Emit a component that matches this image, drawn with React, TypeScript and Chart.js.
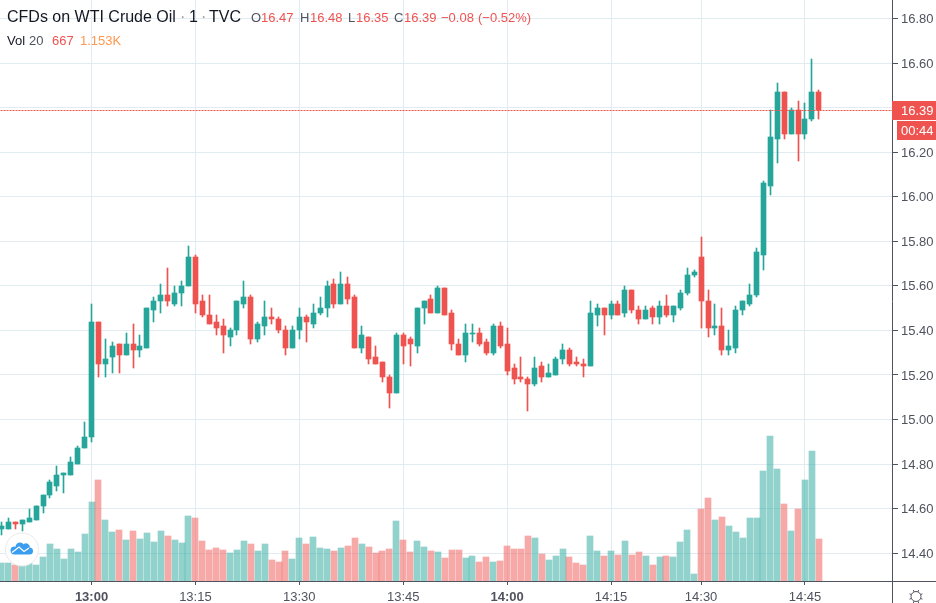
import React, { useEffect, useRef } from 'react';
import { Chart, registerables } from 'chart.js';

Chart.register(...registerables);

// tick labels, bar index -> time (the session has a gap, so it is not evenly timed)
const timeTickIndex = [13, 28, 43, 58, 73, 88, 101, 116];
const timeTickLabels = ['13:00', '13:15', '13:30', '13:45', '14:00', '14:15', '14:30', '14:45'];
const boldTimeLabels = ['13:00', '14:00'];
const priceTicks = [14.4, 14.6, 14.8, 15.0, 15.2, 15.4, 15.6, 15.8, 16.0, 16.2, 16.4, 16.6, 16.8];

const lastPrice = 16.39;

const opens = [
  14.51, 14.51, 14.54, 14.53, 14.54, 14.55, 14.61, 14.66, 14.7, 14.75, 14.75, 14.8, 14.87, 14.92, 15.44, 15.25,
  15.28, 15.34, 15.29, 15.34, 15.31, 15.32, 15.49, 15.53, 15.56, 15.52, 15.57, 15.6, 15.73, 15.53, 15.47, 15.44,
  15.42, 15.37, 15.4, 15.52, 15.55, 15.36, 15.42, 15.46, 15.45, 15.4, 15.32, 15.4, 15.46, 15.43, 15.48, 15.5,
  15.61, 15.52, 15.61, 15.55, 15.32, 15.37, 15.28, 15.26, 15.19, 15.12, 15.38, 15.36, 15.33, 15.5, 15.54, 15.48,
  15.59, 15.48, 15.34, 15.29, 15.39, 15.39, 15.35, 15.3, 15.42, 15.34, 15.23, 15.19, 15.18, 15.16, 15.24, 15.19,
  15.2, 15.27, 15.31, 15.26, 15.25, 15.24, 15.47, 15.5, 15.47, 15.52, 15.48, 15.58, 15.49, 15.45, 15.5, 15.46,
  15.51, 15.47, 15.5, 15.57, 15.65, 15.73, 15.53, 15.41, 15.42, 15.31, 15.32, 15.49, 15.52, 15.56, 15.74, 16.05,
  16.26, 16.47, 16.28, 16.39, 16.28, 16.35, 16.47,
];
const highs = [
  14.54, 14.56, 14.54, 14.55, 14.6, 14.61, 14.66, 14.73, 14.79, 14.76, 14.83, 14.88, 14.99, 15.52, 15.44, 15.36,
  15.35, 15.34, 15.39, 15.43, 15.38, 15.5, 15.55, 15.61, 15.68, 15.6, 15.62, 15.78, 15.74, 15.56, 15.56, 15.47,
  15.45, 15.41, 15.53, 15.62, 15.56, 15.44, 15.53, 15.5, 15.46, 15.42, 15.42, 15.5, 15.47, 15.52, 15.55, 15.62,
  15.63, 15.66, 15.64, 15.56, 15.42, 15.37, 15.33, 15.26, 15.2, 15.39, 15.39, 15.37, 15.5, 15.53, 15.56, 15.6,
  15.59, 15.49, 15.36, 15.43, 15.43, 15.41, 15.36, 15.43, 15.44, 15.41, 15.25, 15.28, 15.19, 15.28, 15.26, 15.25,
  15.28, 15.34, 15.32, 15.28, 15.27, 15.53, 15.52, 15.5, 15.53, 15.53, 15.6, 15.58, 15.51, 15.51, 15.51, 15.53,
  15.56, 15.51, 15.58, 15.68, 15.67, 15.82, 15.58, 15.52, 15.5, 15.4, 15.51, 15.53, 15.61, 15.77, 16.07, 16.39,
  16.51, 16.47, 16.4, 16.43, 16.42, 16.62, 16.48,
];
const lows = [
  14.48, 14.51, 14.51, 14.5, 14.54, 14.55, 14.58, 14.65, 14.68, 14.67, 14.75, 14.8, 14.87, 14.9, 15.19, 15.19,
  15.21, 15.21, 15.29, 15.23, 15.28, 15.32, 15.44, 15.48, 15.51, 15.51, 15.51, 15.6, 15.48, 15.46, 15.43, 15.38,
  15.3, 15.33, 15.38, 15.5, 15.34, 15.35, 15.38, 15.43, 15.39, 15.29, 15.32, 15.36, 15.35, 15.41, 15.47, 15.46,
  15.5, 15.52, 15.52, 15.32, 15.3, 15.25, 15.25, 15.17, 15.05, 15.12, 15.25, 15.24, 15.3, 15.43, 15.48, 15.48,
  15.47, 15.31, 15.29, 15.26, 15.35, 15.33, 15.29, 15.29, 15.32, 15.2, 15.16, 15.17, 15.04, 15.15, 15.17, 15.19,
  15.2, 15.25, 15.24, 15.24, 15.19, 15.24, 15.42, 15.38, 15.45, 15.47, 15.46, 15.48, 15.43, 15.45, 15.43, 15.43,
  15.46, 15.44, 15.49, 15.56, 15.64, 15.41, 15.37, 15.38, 15.29, 15.29, 15.3, 15.47, 15.51, 15.55, 15.67, 16.01,
  16.15, 16.26, 16.28, 16.16, 16.26, 16.34, 16.35,
];
const closes = [
  14.52, 14.54, 14.53, 14.55, 14.56, 14.61, 14.66, 14.72, 14.75, 14.76, 14.81, 14.87, 14.92, 15.44, 15.25, 15.27,
  15.33, 15.29, 15.34, 15.31, 15.33, 15.5, 15.53, 15.56, 15.53, 15.57, 15.6, 15.73, 15.52, 15.47, 15.43, 15.41,
  15.38, 15.4, 15.53, 15.55, 15.36, 15.43, 15.46, 15.45, 15.4, 15.32, 15.4, 15.46, 15.44, 15.48, 15.5, 15.6,
  15.52, 15.61, 15.54, 15.32, 15.38, 15.27, 15.25, 15.19, 15.12, 15.38, 15.33, 15.34, 15.5, 15.53, 15.48, 15.59,
  15.47, 15.34, 15.29, 15.39, 15.39, 15.34, 15.3, 15.42, 15.33, 15.22, 15.18, 15.18, 15.16, 15.23, 15.19, 15.21,
  15.27, 15.31, 15.25, 15.25, 15.24, 15.48, 15.5, 15.47, 15.52, 15.47, 15.58, 15.49, 15.45, 15.49, 15.46, 15.51,
  15.47, 15.51, 15.57, 15.65, 15.66, 15.53, 15.41, 15.42, 15.31, 15.33, 15.49, 15.53, 15.56, 15.75, 16.06, 16.27,
  16.47, 16.28, 16.39, 16.28, 16.35, 16.47, 16.39,
];
const volumes = [
  286, 286, 254, 254, 286, 254, 382, 588, 509, 350, 509, 461, 747, 1256, 1606, 970, 779, 811, 652, 795, 668, 763,
  620, 795, 716, 652, 604, 1034, 1002, 636, 493, 525, 493, 445, 493, 636, 588, 477, 588, 334, 302, 477, 350, 684,
  588, 700, 525, 509, 477, 525, 557, 684, 588, 541, 445, 477, 509, 954, 652, 461, 636, 541, 477, 461, 366, 493,
  493, 366, 398, 302, 382, 302, 318, 557, 509, 509, 716, 684, 429, 334, 398, 509, 382, 286, 254, 716, 477, 398,
  477, 413, 636, 413, 461, 398, 254, 382, 398, 382, 620, 811, 111, 1145, 1320, 970, 1018, 875, 779, 684, 1002,
  1002, 1749, 2306, 1781, 1224, 795, 1145, 1606, 2067, 667,
];

const GREEN = '#26a69a';
const RED = '#ef5350';
const GREEN_VOL = 'rgba(38, 166, 154, 0.5)';
const RED_VOL = 'rgba(239, 83, 80, 0.5)';
const GRID = '#e1ecf2';
const AXIS = '#50535e';
const FONT = '"Liberation Sans", Arial, sans-serif';

const isUp = (i: number) => closes[i] >= opens[i];
const barColors = opens.map((_, i) => (isUp(i) ? GREEN : RED));
const volColors = opens.map((_, i) => (isUp(i) ? GREEN_VOL : RED_VOL));

// the reference snaps its candles to whole pixels, bars from the scale would blur
const snapPlugin = {
  id: 'snap',
  beforeDatasetDraw(_chart: any, args: any) {
    const label = args.meta.label;
    for (const el of args.meta.data) {
      if (args.meta.type === 'line') {
        el.y = Math.round(el.y) + 0.5;
        continue;
      }
      el.x = label === 'Vol' ? Math.round(el.x) : Math.floor(el.x) + 0.5;
      el.y = Math.round(el.y);
      el.base = Math.round(el.base);
      if (el.y === el.base) el.base += 1;
    }
  },
};

const drawText = (ctx: any, text: string, x: number, y: number, color: string, font = `14px ${FONT}`) => {
  ctx.font = font;
  ctx.fillStyle = color;
  ctx.fillText(text, x, y);
};

const drawLogo = (ctx: any) => {
  ctx.save();
  ctx.beginPath();
  ctx.arc(22, 549.5, 16.5, 0, Math.PI * 2);
  ctx.fillStyle = '#ffffff';
  ctx.fill();
  ctx.strokeStyle = '#e9e9e9';
  ctx.lineWidth = 1;
  ctx.stroke();
  ctx.fillStyle = '#3b9df0';
  ctx.beginPath();
  ctx.arc(14.5, 550.5, 4, Math.PI * 0.5, Math.PI * 1.5);
  ctx.arc(20, 547, 4.5, Math.PI, Math.PI * 1.8);
  ctx.arc(26, 547.5, 4, Math.PI * 1.2, Math.PI * 1.9);
  ctx.arc(29.5, 551, 3.5, Math.PI * 1.5, Math.PI * 0.5);
  ctx.closePath();
  ctx.fill();
  ctx.strokeStyle = '#ffffff';
  ctx.lineWidth = 1.3;
  ctx.beginPath();
  ctx.moveTo(12, 552.5);
  ctx.lineTo(19, 547);
  ctx.lineTo(24, 551.5);
  ctx.lineTo(29, 548);
  ctx.stroke();
  ctx.restore();
};

const drawGear = (ctx: any) => {
  const cx = 916;
  const cy = 596.5;
  ctx.save();
  ctx.strokeStyle = AXIS;
  ctx.lineWidth = 1;
  ctx.beginPath();
  ctx.arc(cx, cy, 5, 0, Math.PI * 2);
  ctx.stroke();
  for (let i = 0; i < 8; i++) {
    const a = (i * Math.PI) / 4 + Math.PI / 8;
    ctx.beginPath();
    ctx.moveTo(cx + Math.cos(a) * 5, cy + Math.sin(a) * 5);
    ctx.lineTo(cx + Math.cos(a) * 7, cy + Math.sin(a) * 7);
    ctx.stroke();
  }
  ctx.restore();
};

const overlayPlugin = {
  id: 'overlay',
  afterDraw(chart: any) {
    const { ctx } = chart;
    ctx.save();
    // axis lines run past the plot, to the canvas edges
    ctx.strokeStyle = AXIS;
    ctx.lineWidth = 1;
    ctx.beginPath();
    ctx.moveTo(892.5, 0);
    ctx.lineTo(892.5, 603);
    ctx.moveTo(0, 581.5);
    ctx.lineTo(936, 581.5);
    ctx.stroke();

    drawLogo(ctx);
    drawGear(ctx);

    // last price + countdown boxes
    const py = Math.round(chart.scales.y.getPixelForValue(lastPrice)) + 0.5;
    ctx.fillStyle = RED;
    ctx.fillRect(892, py - 9.5, 44, 19);
    ctx.fillRect(897, py + 10.5, 39, 19);
    ctx.textBaseline = 'middle';
    drawText(ctx, lastPrice.toFixed(2), 901, py + 0.5, '#ffffff', `13px ${FONT}`);
    drawText(ctx, '00:44', 901, py + 20.5, '#ffffff', `13px ${FONT}`);

    // header legend
    ctx.textBaseline = 'alphabetic';
    const big = `16px ${FONT}`;
    drawText(ctx, 'CFDs on WTI Crude Oil', 7, 22, '#131722', big);
    drawText(ctx, '·', 180, 22, '#9a9a9a', big);
    drawText(ctx, '1', 189, 22, '#131722', big);
    drawText(ctx, '·', 201, 22, '#9a9a9a', big);
    drawText(ctx, 'TVC', 209, 22, '#131722', big);
    const small = `13px ${FONT}`;
    drawText(ctx, 'O', 251, 22, AXIS, small);
    drawText(ctx, '16.47', 261, 22, RED, small);
    drawText(ctx, 'H', 300, 22, AXIS, small);
    drawText(ctx, '16.48', 310, 22, RED, small);
    drawText(ctx, 'L', 348, 22, AXIS, small);
    drawText(ctx, '16.35', 356, 22, RED, small);
    drawText(ctx, 'C', 394, 22, AXIS, small);
    drawText(ctx, '16.39', 404, 22, RED, small);
    drawText(ctx, '−0.08', 441, 22, RED, small);
    drawText(ctx, '(−0.52%)', 478, 22, RED, small);
    drawText(ctx, 'Vol', 7, 45, '#131722', small);
    drawText(ctx, '20', 29, 45, AXIS, small);
    drawText(ctx, '667', 52, 45, RED, small);
    drawText(ctx, '1.153K', 80, 45, '#ff9850', small);
    ctx.restore();
  },
};

export default function App() {
  const canvasRef = useRef<HTMLCanvasElement>(null);

  useEffect(() => {
    document.body.style.margin = '0';
    if (!canvasRef.current) return;

    const chart = new Chart(canvasRef.current, {
      type: 'bar',
      data: {
        datasets: [
          {
            type: 'line',
            label: 'Last',
            data: [
              { x: -1, y: lastPrice },
              { x: 129, y: lastPrice },
            ],
            yAxisID: 'y',
            borderColor: RED,
            borderWidth: 1,
            borderDash: [2, 1],
            pointRadius: 0,
            order: 0,
          },
          {
            label: 'Body',
            data: opens.map((o, i) => ({ x: i, y: [o, closes[i]] })),
            yAxisID: 'y',
            backgroundColor: barColors,
            barThickness: 5,
            grouped: false,
            order: 1,
          },
          {
            label: 'Wick',
            data: lows.map((l, i) => ({ x: i, y: [l, highs[i]] })),
            yAxisID: 'y',
            backgroundColor: barColors,
            barThickness: 1,
            grouped: false,
            order: 2,
          },
          {
            label: 'Vol',
            data: volumes.map((v, i) => ({ x: i, y: v })),
            yAxisID: 'vol',
            backgroundColor: volColors,
            barThickness: 6,
            grouped: false,
            order: 3,
          },
        ],
      } as any,
      options: {
        responsive: false,
        animation: false,
        devicePixelRatio: 1,
        events: [],
        layout: { padding: 0 },
        plugins: { legend: { display: false }, tooltip: { enabled: false } },
        scales: {
          x: {
            type: 'linear',
            offset: false,
            min: -0.209,
            max: 128.56,
            afterFit: (axis: any) => {
              axis.height = 22;
              axis.paddingLeft = 0;
              axis.paddingRight = 0;
            },
            afterBuildTicks: (axis: any) => {
              axis.ticks = timeTickIndex.map((value) => ({ value }));
            },
            grid: { offset: false, color: GRID, tickColor: AXIS, tickLength: 4 },
            border: { display: false },
            ticks: {
              autoSkip: false,
              maxRotation: 0,
              padding: 5,
              color: AXIS,
              font: (c: any) => ({
                family: FONT,
                size: 13,
                weight: boldTimeLabels.includes(timeTickLabels[timeTickIndex.indexOf(c.tick?.value)]) ? 'bold' : 'normal',
              }),
              callback: (v: any) => timeTickLabels[timeTickIndex.indexOf(v)] ?? '',
            },
          },
          y: {
            type: 'linear',
            position: 'right',
            min: 14.2753,
            max: 16.883,
            afterFit: (axis: any) => {
              axis.width = 44;
              axis.paddingTop = 0;
              axis.paddingBottom = 0;
            },
            afterBuildTicks: (axis: any) => {
              axis.ticks = priceTicks.map((value) => ({ value }));
            },
            grid: { color: GRID, tickColor: AXIS, tickLength: 6 },
            border: { display: false },
            ticks: {
              padding: 3,
              labelOffset: 1,
              color: AXIS,
              font: { family: FONT, size: 13 },
              // 16.40 sits behind the last price box
              callback: (v: any) => (Number(v) === 16.4 ? '' : Number(v).toFixed(2)),
            },
          },
          vol: {
            type: 'linear',
            display: false,
            min: 0,
            max: 9238,
          },
        },
      } as any,
      plugins: [snapPlugin, overlayPlugin],
    });

    return () => chart.destroy();
  }, []);

  return <canvas ref={canvasRef} width={936} height={603} style={{ display: 'block' }} />;
}
